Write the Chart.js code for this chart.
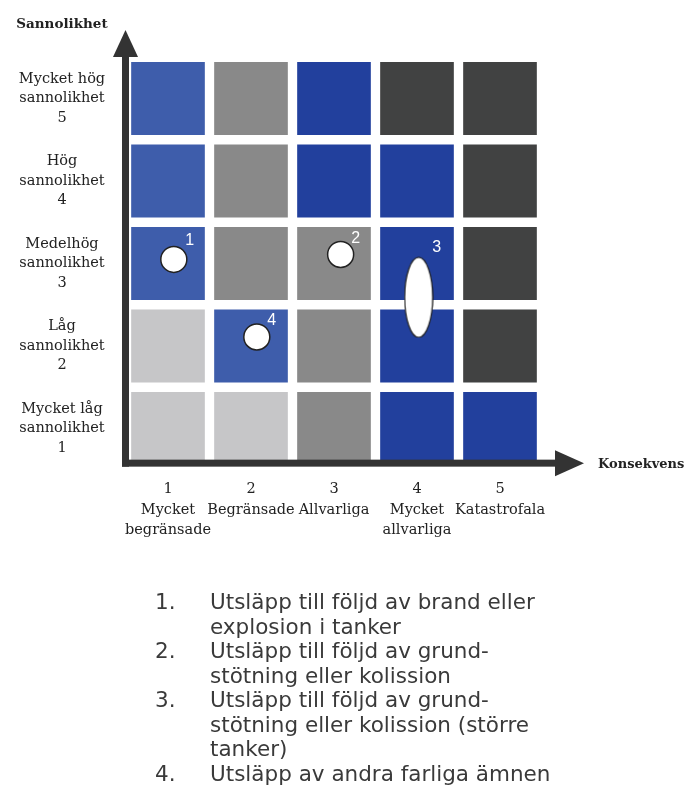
<!DOCTYPE html>
<html>
<head>
<meta charset="utf-8">
<script src="https://cdn.jsdelivr.net/npm/chart.js@4.4.1/dist/chart.umd.min.js"></script>
<style>
html,body{margin:0;padding:0;background:#ffffff;}
#wrap{position:relative;width:693px;height:803px;overflow:hidden;}
#c{position:absolute;left:0;top:0;}
#list{position:absolute;left:0;top:590px;width:693px;font-family:"DejaVu Sans",Verdana,sans-serif;font-size:21.5px;line-height:24.5px;color:#3a3a3a;}
.item{position:relative;padding-left:210px;white-space:pre;}
.num{position:absolute;left:155px;top:0;}
</style>
</head>
<body>
<div id="wrap">
<canvas id="c" width="693" height="803"></canvas>
<div id="list"></div>
</div>
<script>
// ---------- data ----------
const consequenceNums = ['1', '2', '3', '4', '5'];
const consequenceNames = [['Mycket', 'begränsade'], ['Begränsade'], ['Allvarliga'], ['Mycket', 'allvarliga'], ['Katastrofala']];
const probabilityLevels = [1, 2, 3, 4, 5];
const probabilityNames = [['Mycket låg', 'sannolikhet', '1'], ['Låg', 'sannolikhet', '2'], ['Medelhög', 'sannolikhet', '3'], ['Hög', 'sannolikhet', '4'], ['Mycket hög', 'sannolikhet', '5']];
const yAxisTitle = 'Sannolikhet';
const xAxisTitle = 'Konsekvens';
// risk class of each cell (consequence 1..5), one array per probability level
const riskRow1 = [1, 1, 2, 4, 4];
const riskRow2 = [1, 3, 2, 4, 5];
const riskRow3 = [3, 2, 2, 4, 5];
const riskRow4 = [3, 2, 4, 4, 5];
const riskRow5 = [3, 2, 4, 5, 5];
// scenario markers
const markerIds = ['1', '2', '3', '4'];
const markerConsequence = [1.07, 3.08, 4.02, 2.07];
const markerProbability = [3.05, 3.11, 2.59, 2.11];
const legendNums = ['1.', '2.', '3.', '4.'];
const legendTexts = [
  'Utsläpp till följd av brand eller\nexplosion i tanker',
  'Utsläpp till följd av grund-\nstötning eller kolission',
  'Utsläpp till följd av grund-\nstötning eller kolission (större\ntanker)',
  'Utsläpp av andra farliga ämnen'
];

// ---------- styles ----------
const palette = {1: '#c6c6c8', 2: '#898989', 3: '#3e5dab', 4: '#22409d', 5: '#414242'};
const axisColor = '#333333';
const serif = '"DejaVu Serif", serif';
const labelOffsets = [[16, -19], [15, -16], [18, -50], [15, -16]];

function ellipseStyle(w, h) {
  const cv = document.createElement('canvas');
  cv.width = w; cv.height = h;
  const g = cv.getContext('2d');
  g.beginPath();
  g.ellipse(w / 2, h / 2, w / 2 - 1, h / 2 - 1, 0, 0, Math.PI * 2);
  g.fillStyle = '#ffffff';
  g.fill();
  g.lineWidth = 1.2;
  g.strokeStyle = '#222222';
  g.stroke();
  return cv;
}
const ellipse = ellipseStyle(30, 82);

const riskRows = [riskRow1, riskRow2, riskRow3, riskRow4, riskRow5];
const cellDatasets = riskRows.map((row, i) => ({
  type: 'bar',
  label: 'P' + probabilityLevels[i],
  data: row.map((cls, j) => ({x: j + 1, y: [probabilityLevels[i] - 0.5, probabilityLevels[i] + 0.5]})),
  backgroundColor: row.map(c => palette[c]),
  borderColor: '#ffffff',
  borderWidth: 5,
  borderSkipped: false,
  grouped: false,
  barPercentage: 1,
  categoryPercentage: 1,
  order: 2
}));

const markerDataset = {
  type: 'scatter',
  label: 'Scenarier',
  data: markerIds.map((id, i) => ({x: markerConsequence[i], y: markerProbability[i]})),
  pointStyle: markerIds.map((id, i) => i === 2 ? ellipse : 'circle'),
  pointRadius: 13,
  pointBackgroundColor: '#ffffff',
  pointBorderColor: '#222222',
  pointBorderWidth: 1.5,
  order: 1
};

const decor = {
  id: 'decor',
  afterDatasetsDraw(chart) {
    const ctx = chart.ctx;
    const xs = chart.scales.x, ys = chart.scales.y;
    const ca = chart.chartArea;
    ctx.save();
    // axes with arrows
    const ax = xs.getPixelForValue(0.5) - 1;
    const ay = ys.getPixelForValue(0.58);
    ctx.fillStyle = axisColor;
    ctx.fillRect(ax - 3.5, 57, 7, ay + 3.5 - 57);
    ctx.beginPath();
    ctx.moveTo(ax - 12.5, 57); ctx.lineTo(ax, 30); ctx.lineTo(ax + 12.5, 57); ctx.closePath();
    ctx.fill();
    ctx.fillRect(ax - 3.5, ay - 3.5, 556 - (ax - 3.5), 7);
    ctx.beginPath();
    ctx.moveTo(555, ay - 13); ctx.lineTo(584, ay); ctx.lineTo(555, ay + 13); ctx.closePath();
    ctx.fill();

    // marker numbers
    const meta = chart.getDatasetMeta(chart.data.datasets.length - 1);
    ctx.fillStyle = '#ffffff';
    ctx.font = '16px "Liberation Sans", Arial, sans-serif';
    ctx.textAlign = 'center';
    ctx.textBaseline = 'middle';
    meta.data.forEach((pt, i) => {
      ctx.fillText(markerIds[i], pt.x + labelOffsets[i][0], pt.y + labelOffsets[i][1]);
    });

    // tick labels
    ctx.fillStyle = '#222222';
    ctx.font = '14.5px ' + serif;
    probabilityLevels.forEach((p, i) => {
      const cy = ys.getPixelForValue(p);
      probabilityNames[i].forEach((line, k) => {
        ctx.fillText(line, 62, cy + (k - 1) * 19.5);
      });
    });
    consequenceNums.forEach((n, i) => {
      const cx = xs.getPixelForValue(i + 1);
      ctx.fillText(n, cx, ca.bottom + 19.5);
      consequenceNames[i].forEach((line, k) => {
        ctx.fillText(line, cx, ca.bottom + 40 + k * 20.5);
      });
    });
    // axis titles
    ctx.font = 'bold 13.5px ' + serif;
    ctx.fillText(yAxisTitle, 62, 24.5);
    ctx.textAlign = 'left';
    ctx.font = 'bold 13px ' + serif;
    ctx.fillText(xAxisTitle, 598, ay + 1);
    ctx.restore();
  }
};

new Chart(document.getElementById('c'), {
  type: 'bar',
  data: {datasets: [...cellDatasets, markerDataset]},
  options: {
    responsive: false,
    animation: false,
    events: [],
    layout: {padding: {left: 126.5, right: 151.5, top: 57.25, bottom: 333.25}},
    plugins: {legend: {display: false}, tooltip: {enabled: false}},
    scales: {
      x: {type: 'linear', offset: false, min: 0.5, max: 5.5, display: false, ticks: {stepSize: 1, includeBounds: false}},
      y: {type: 'linear', offset: false, min: 0.5, max: 5.5, display: false, ticks: {stepSize: 1, includeBounds: false}}
    }
  },
  plugins: [decor]
});

// numbered list under the chart
const list = document.getElementById('list');
legendTexts.forEach((t, i) => {
  const d = document.createElement('div');
  d.className = 'item';
  const n = document.createElement('span');
  n.className = 'num';
  n.textContent = legendNums[i];
  d.appendChild(n);
  d.appendChild(document.createTextNode(t));
  list.appendChild(d);
});
</script>
</body>
</html>
